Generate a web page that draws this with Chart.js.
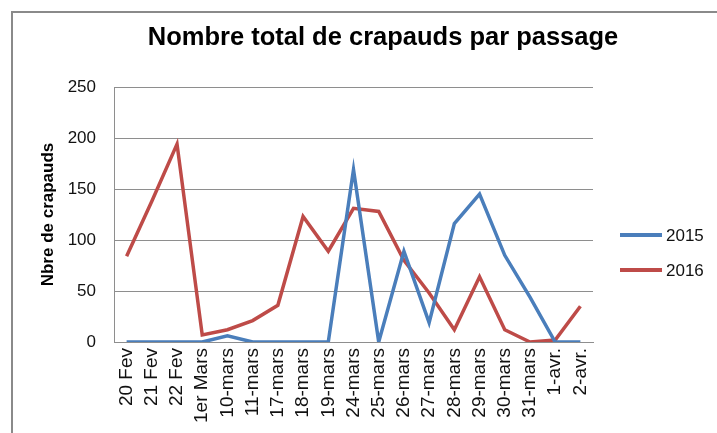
<!DOCTYPE html>
<html lang="fr">
<head>
    <meta charset="UTF-8">
    <title>Nombre total de crapauds par passage</title>
    <script src="https://cdn.jsdelivr.net/npm/chart.js"></script>
    <style>
        body {
            margin: 0;
            background: #fff;
        }
        .cadre {
            position: absolute;
            left: 11px;
            top: 11px;
            width: 800px;
            height: 500px;
            border-left: 2px solid #8a8a8a;
            border-top: 2px solid #8a8a8a;
        }
        #graphique {
            position: absolute;
            left: 0;
            top: 0;
        }
    </style>
</head>
<body>
    <div class="cadre"></div>
    <canvas id="graphique" width="717" height="433"></canvas>

    <script>
        const titre = 'Nombre total de crapauds par passage';

        // dates de passage
        const passages = ["20 Fev", "21 Fev", "22 Fev", "1er Mars", "10-mars", "11-mars", "17-mars",
            "18-mars", "19-mars", "24-mars", "25-mars", "26-mars", "27-mars", "28-mars", "29-mars",
            "30-mars", "31-mars", "1-avr.", "2-avr."];

        // nombre de crapauds par passage
        const annee2015 = [0, 0, 0, 0, 6, 0, 0, 0, 0, 169, 0, 89, 19, 116, 145, 85, 44, 0, 0];
        const annee2016 = [84, 138, 194, 7, 12, 21, 36, 123, 89, 131, 128, 80, 48, 12, 64, 12, 0, 2, 35];

        // axe des ordonnées
        const yMin = 0;
        const yMax = 250;
        const yPas = 50;

        const bleu = '#4a7ebb';
        const rouge = '#be4b48';
        const gris = '#8e8e8e';
        const police = "'Liberation Sans', Arial, sans-serif";

        // titre centré sur toute la zone du graphique (légende comprise)
        const titreCentre = {
            id: 'titreCentre',
            afterDraw(chart) {
                const ctx = chart.ctx;
                ctx.save();
                ctx.fillStyle = '#000';
                ctx.font = 'bold 25.5px ' + police;
                ctx.textAlign = 'center';
                ctx.textBaseline = 'middle';
                ctx.fillText(titre, 383, 38);
                ctx.restore();
            }
        };

        // légende dessinée à droite du graphique
        const legendeDroite = {
            id: 'legendeDroite',
            afterDraw(chart) {
                const ctx = chart.ctx;
                ctx.save();
                chart.data.datasets.forEach((ds, i) => {
                    const y = 235 + i * 35;
                    ctx.strokeStyle = ds.borderColor;
                    ctx.lineWidth = 4;
                    ctx.beginPath();
                    ctx.moveTo(620, y);
                    ctx.lineTo(662, y);
                    ctx.stroke();
                    ctx.fillStyle = '#111';
                    ctx.font = '17px ' + police;
                    ctx.textBaseline = 'middle';
                    ctx.fillText(ds.label, 666, y + 1);
                });
                ctx.restore();
            }
        };

        new Chart(document.getElementById('graphique'), {
            type: 'line',
            data: {
                labels: passages,
                datasets: [
                    {
                        label: '2015',
                        data: annee2015,
                        borderColor: bleu,
                        backgroundColor: bleu,
                        borderWidth: 3.5,
                        pointRadius: 0,
                        tension: 0
                    },
                    {
                        label: '2016',
                        data: annee2016,
                        borderColor: rouge,
                        backgroundColor: rouge,
                        borderWidth: 3.5,
                        pointRadius: 0,
                        tension: 0
                    }
                ]
            },
            options: {
                responsive: false,
                animation: false,
                layout: {
                    padding: { left: 0, right: 124, top: 87, bottom: 0 }
                },
                plugins: {
                    legend: { display: false },
                    tooltip: { enabled: false },
                    title: { display: false }
                },
                scales: {
                    x: {
                        offset: true,
                        grid: { display: false, drawTicks: false },
                        border: { display: true, color: gris, width: 1 },
                        ticks: {
                            autoSkip: false,
                            minRotation: 90,
                            maxRotation: 90,
                            padding: 6,
                            color: '#111',
                            font: { family: police, size: 19 }
                        },
                        afterFit(scale) { scale.height = 91; }
                    },
                    y: {
                        min: yMin,
                        max: yMax,
                        ticks: {
                            stepSize: yPas,
                            padding: 18,
                            color: '#111',
                            font: { family: police, size: 17 }
                        },
                        grid: { color: gris, lineWidth: 1, drawTicks: false },
                        border: { display: true, color: gris, width: 1 },
                        title: {
                            display: true,
                            text: 'Nbre de crapauds',
                            color: '#000',
                            font: { family: police, size: 17, weight: 'bold', lineHeight: 1.2 },
                            padding: { top: 38, bottom: 0 }
                        },
                        afterFit(scale) { scale.width = 114; }
                    }
                }
            },
            plugins: [titreCentre, legendeDroite]
        });
    </script>
</body>
</html>
